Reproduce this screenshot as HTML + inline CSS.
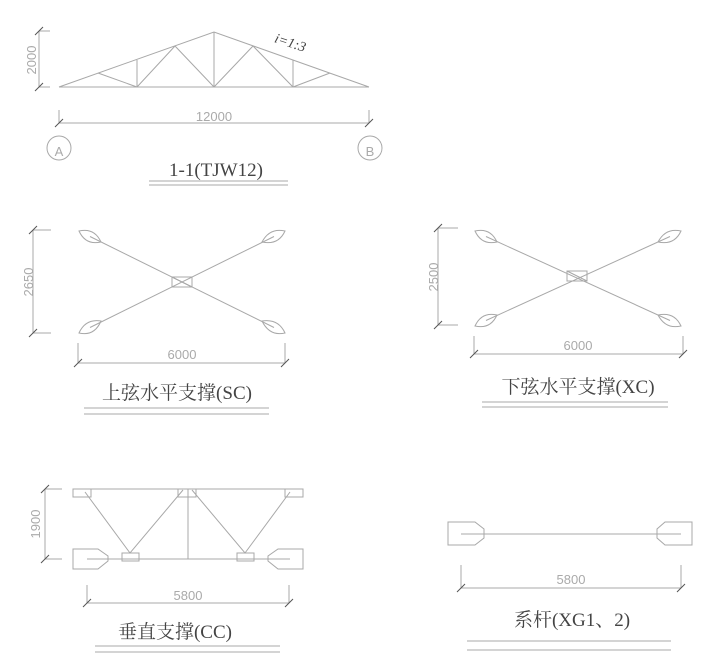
<!DOCTYPE html>
<html><head><meta charset="utf-8"><style>
html,body{margin:0;padding:0;background:#fff;width:704px;height:665px;overflow:hidden}
svg{display:block}
.l{stroke:#a8a8a8;stroke-width:1;fill:none}
.d{stroke:#555;stroke-width:1;fill:none}
.dim{font-family:"Liberation Sans",sans-serif;fill:#aaa;font-size:13px}
.t{font-family:"Liberation Serif","Noto Serif CJK SC",serif;fill:#444;font-size:19px}
</style></head><body>
<svg width="704" height="665" viewBox="0 0 704 665" xmlns="http://www.w3.org/2000/svg">
<!-- Truss -->
<g class="l">
<path d="M59 87H369M59 87L214 32L369 87"/>
<path d="M98 73L137 87M137 60V87M137 87L175 46M175 46L214 87M214 32V87M214 87L253 46M253 46L293 87M293 60V87M293 87L330 73"/>
<path d="M39 31V87M39 31H50M39 87H50"/>
<path d="M59 123H369M59 110V123M369 110V123"/>
<circle cx="59" cy="148" r="12"/><circle cx="370" cy="148" r="12"/>
</g>
<g class="d"><path d="M35 35L43 27M35 91L43 83M55 127L63 119M365 127L373 119"/></g>
<text class="dim" transform="translate(36,60) rotate(-90)" text-anchor="middle" font-size="11">2000</text>
<text class="dim" x="214" y="121" text-anchor="middle" font-size="11">12000</text>
<text class="dim" x="59" y="156" text-anchor="middle" font-size="21">A</text>
<text class="dim" x="370" y="156" text-anchor="middle" font-size="21">B</text>
<text x="289" y="47" transform="rotate(18 289 47)" text-anchor="middle" font-family="Liberation Serif,serif" font-style="italic" font-size="14" fill="#444">i=1:3</text>
<text class="t" x="216" y="176" text-anchor="middle" font-size="14">1-1(TJW12)</text>
<g class="l"><path d="M149 181H288M149 185H288"/></g>

<!-- SC -->
<g class="l">
<path d="M90 236.5L274 327.5M274 236.5L90 327.5"/>
<rect x="172" y="277" width="20" height="10"/><path d="M172 277L192 287"/>
<path d="M79 231Q85.6 245.5 101 242Q94.4 227.5 79 231Z"/>
<path d="M285 231Q278.4 245.5 262 242Q269.6 227.5 285 231Z"/>
<path d="M79 333Q85.6 318.5 101 321Q94.4 336.5 79 333Z"/>
<path d="M285 333Q278.4 318.5 262 321Q269.6 336.5 285 333Z"/>
<path d="M33 230V333M33 230H51M33 333H51"/>
<path d="M78 363H285M78 343V363M285 343V363"/>
<path d="M84 408H269M84 414H269"/>
</g>
<g class="d"><path d="M29 234L37 226M29 337L37 329M74 367L82 359M281 367L289 359"/></g>
<text class="dim" transform="translate(33,282) rotate(-90)" text-anchor="middle" font-size="15">2650</text>
<text class="dim" x="182" y="359" text-anchor="middle" font-size="15">6000</text>
<text class="t" x="177" y="399" text-anchor="middle">上弦水平支撑(SC)</text>

<!-- XC -->
<g class="l">
<path d="M486 236.5L670 320.5M670 236.5L486 320.5"/>
<rect x="567" y="271" width="20" height="10"/><path d="M567 271L587 281"/>
<path d="M475 231Q481.6 245.5 497 242Q490.4 227.5 475 231Z"/>
<path d="M681 231Q674.4 245.5 658 242Q665.6 227.5 681 231Z"/>
<path d="M475 326Q481.6 311.5 497 315Q490.4 329.5 475 326Z"/>
<path d="M681 326Q674.4 311.5 658 315Q665.6 329.5 681 326Z"/>
<path d="M438 228V325M438 228H458M438 325H458"/>
<path d="M474 354H683M474 336V354M683 336V354"/>
<path d="M482 402H668M482 407H668"/>
</g>
<g class="d"><path d="M434 232L442 224M434 329L442 321M470 358L478 350M679 358L687 350"/></g>
<text class="dim" transform="translate(438,277) rotate(-90)" text-anchor="middle" font-size="15">2500</text>
<text class="dim" x="578" y="350" text-anchor="middle" font-size="15">6000</text>
<text class="t" x="578" y="393" text-anchor="middle">下弦水平支撑(XC)</text>

<!-- CC -->
<g class="l">
<path d="M73 489H303"/>
<rect x="73" y="489" width="18" height="8"/><rect x="178" y="489" width="18" height="8"/><rect x="285" y="489" width="18" height="8"/>
<path d="M87 559H290M188 489V559"/>
<path d="M85 492L130 553L183 490M192 490L245 553L290 492"/>
<rect x="122" y="553" width="17" height="8"/><rect x="237" y="553" width="17" height="8"/>
<path d="M73 549H98L108 556V561L98 569H73Z"/>
<path d="M303 549H278L268 556V561L278 569H303Z"/>
<path d="M45 489V559M45 489H62M45 559H62"/>
<path d="M87 603H289M87 585V603M289 585V603"/>
<path d="M95 646H280M95 652H280"/>
</g>
<g class="d"><path d="M41 493L49 485M41 563L49 555M83 607L91 599M285 607L293 599"/></g>
<text class="dim" transform="translate(40,524) rotate(-90)" text-anchor="middle" font-size="15">1900</text>
<text class="dim" x="188" y="600" text-anchor="middle" font-size="15">5800</text>
<text class="t" x="175" y="638" text-anchor="middle">垂直支撑(CC)</text>

<!-- XG -->
<g class="l">
<path d="M461 534H681"/>
<path d="M448 522H475L484 529V538L475 545H448Z"/>
<path d="M692 522H665L657 529V538L665 545H692Z"/>
<path d="M461 588H681M461 565V588M681 565V588"/>
<path d="M467 641H671M467 650H671"/>
</g>
<g class="d"><path d="M457 592L465 584M677 592L685 584"/></g>
<text class="dim" x="571" y="584" text-anchor="middle" font-size="15">5800</text>
<text class="t" x="572" y="626" text-anchor="middle">系杆(XG1、2)</text>
</svg>
</body></html>
